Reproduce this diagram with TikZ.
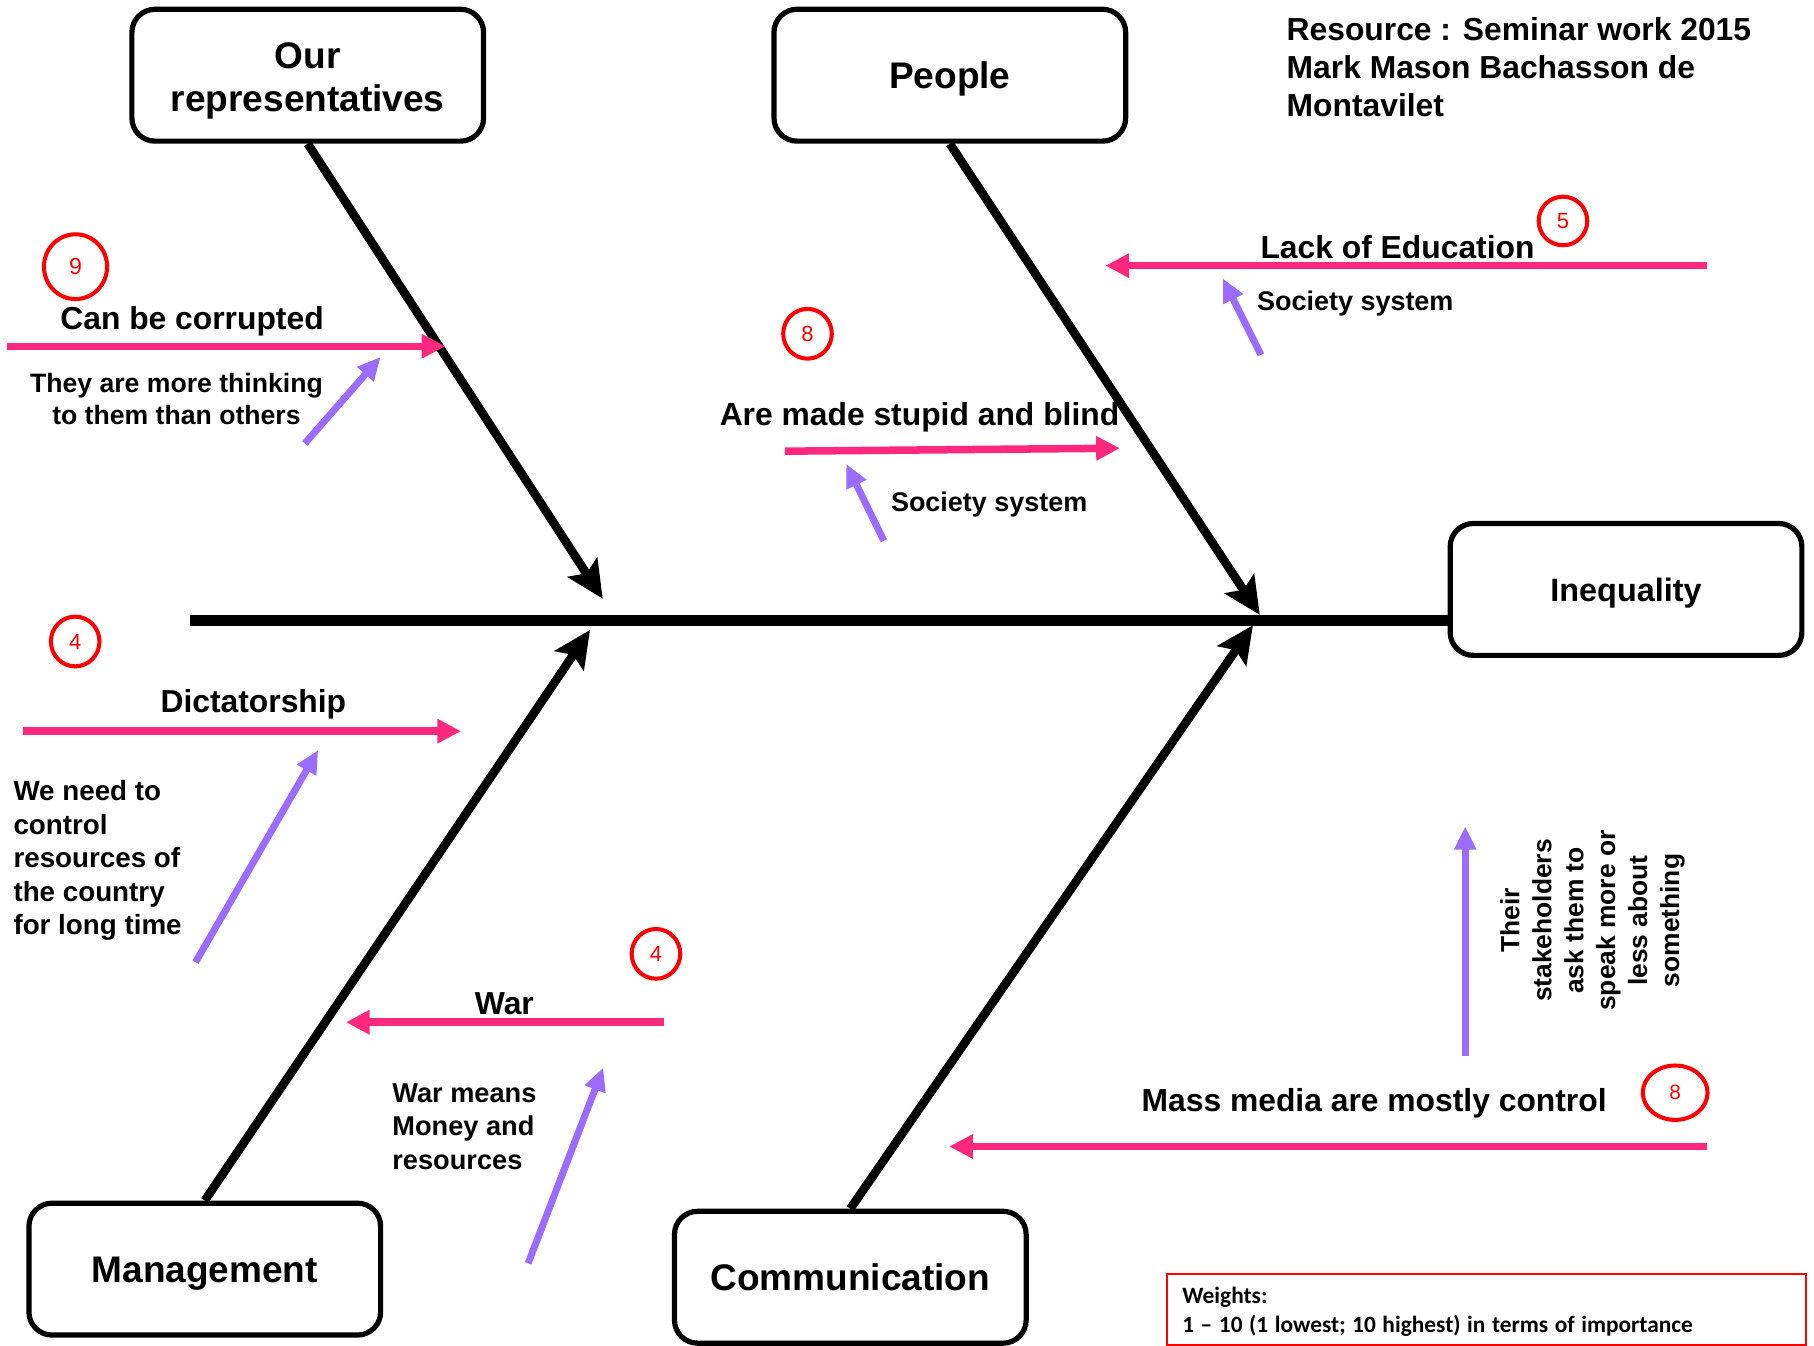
\documentclass[tikz,border=0pt]{standalone}
\usepackage{fontspec}
\setmainfont{Liberation Sans}
\newfontfamily\legendfont{Carlito}
\usetikzlibrary{arrows.meta,shapes.geometric}

\definecolor{causepink}{RGB}{255,40,125}
\definecolor{reasonviolet}{RGB}{155,108,255}

\begin{document}
\begin{tikzpicture}[x=1pt,y=-1pt]

\tikzset{
    bonebox/.style={draw, line width=4.5pt, rounded corners=20pt, minimum width=304pt, minimum height=114pt, align=center, text height=23pt, text depth=0pt, font=\fontsize{32}{37}\selectfont\bfseries},
    spine/.style={line width=9pt},
    bone/.style={line width=7.5pt, -{Stealth[length=32pt, width=30pt, inset=6pt]}},
    cause/.style={draw=causepink, line width=6.5pt, -{Triangle[length=20.5pt, width=20pt]}},
    reason/.style={draw=reasonviolet, line width=6pt, -{Triangle[length=20pt, width=18pt]}},
    causetext/.style={inner sep=0pt, anchor=base, font=\fontsize{27.5}{33}\selectfont\bfseries},
    reasontext/.style={inner sep=0pt, font=\fontsize{23.5}{29}\selectfont\bfseries},
    weight/.style={draw=red, line width=3.5pt, ellipse, inner sep=0pt, minimum width=42pt, minimum height=43pt, text=red, font=\fontsize{19}{19}\selectfont}
}

\useasboundingbox (0,0) rectangle (1568,1162.6);

\node[bonebox, text height=, text depth=] (rep) at (266,65) {\raisebox{-5pt}[\height][\depth]{Our}\\\raisebox{-5pt}[\height][\depth]{representatives}};
\node[bonebox] (people) at (821,65) {People};
\node[bonebox, text height=20pt, font=\fontsize{28}{34}\selectfont\bfseries] (ineq) at (1405.5,509.5) {Inequality};
\node[bonebox] (mgmt) at (177,1097) {Management};
\node[bonebox] (comm) at (735,1104) {Communication};

\coordinate (tail) at (164,536.5);
\coordinate (j1) at (521,517.5);
\coordinate (j2) at (1089,531.5);
\coordinate (j3) at (510,544.5);
\coordinate (j4) at (1083,540.5);

\draw[spine] (tail) -- (tail -| ineq.west);
\draw[bone] (rep.south) -- (j1);
\draw[bone] (people.south) -- (j2);
\draw[bone] (mgmt.north) -- (j3);
\draw[bone] (comm.north) -- (j4);

\node[anchor=north west, inner sep=0pt, align=left, font=\fontsize{27.5}{32.7}\selectfont\bfseries] (source) at (1112,15) {Resource : Seminar work 2015\\Mark Mason Bachasson de\\Montavilet};

% our representatives
\node[weight, minimum width=54.6pt, minimum height=56pt, font=\fontsize{20}{20}\selectfont] (w9) at (65.3,230.5) {9};
\node[causetext] (corrupt) at (166,284.4) {Can be corrupted};
\coordinate (corrupt-s) at (6,299.3);
\coordinate (corrupt-e) at (385,299.3);
\draw[cause] (corrupt-s) -- (corrupt-e);
\node[reasontext, anchor=north, align=center, font=\fontsize{23}{27.8}\selectfont\bfseries] (thinking) at (152.5,322.2) {They are more thinking\\to them than others};
\coordinate (thinking-s) at (263.5,383.3);
\coordinate (thinking-e) at (329,308.5);
\draw[reason] (thinking-s) -- (thinking-e);

% people
\node[weight] (w8a) at (698,288.5) {8};
\node[causetext] (stupid) at (794.8,367.8) {Are made stupid and blind};
\coordinate (stupid-s) at (678.5,390);
\coordinate (stupid-e) at (968,387.4);
\draw[cause] (stupid-s) -- (stupid-e);
\node[reasontext, anchor=base west, font=\fontsize{23.3}{28}\selectfont\bfseries] (society1) at (770,441.9) {Society system};
\coordinate (society1-s) at (764,467.4);
\coordinate (society1-e) at (731.5,401);
\draw[reason] (society1-s) -- (society1-e);

\node[weight, minimum height=42pt] (w5) at (1351,191) {5};
\node[causetext] (education) at (1208,223.3) {Lack of Education};
\coordinate (education-s) at (1475.5,229.6);
\coordinate (education-e) at (955.5,229.6);
\draw[cause] (education-s) -- (education-e);
\node[reasontext, anchor=base west, font=\fontsize{23.3}{28}\selectfont\bfseries] (society2) at (1086.5,268.5) {Society system};
\coordinate (society2-s) at (1090,306.7);
\coordinate (society2-e) at (1057,240.7);
\draw[reason] (society2-s) -- (society2-e);

% management
\node[weight] (w4a) at (65,554.5) {4};
\node[causetext] (dictator) at (219,616.2) {Dictatorship};
\coordinate (dictator-s) at (20,632);
\coordinate (dictator-e) at (398.5,632);
\draw[cause] (dictator-s) -- (dictator-e);
\node[reasontext, anchor=north west, align=left, font=\fontsize{24}{29}\selectfont\bfseries] (control) at (11.5,674.5) {We need to\\control\\resources of\\the country\\for long time};
\coordinate (control-s) at (169,831.7);
\coordinate (control-e) at (275,648.4);
\draw[reason] (control-s) -- (control-e);

\node[weight] (w4b) at (567,824.5) {4};
\node[causetext] (war) at (436,877.3) {War};
\coordinate (war-s) at (574,883.6);
\coordinate (war-e) at (299,883.6);
\draw[cause] (war-s) -- (war-e);
\node[reasontext, anchor=north west, align=left] (money) at (339,936.5) {War means\\Money and\\resources};
\coordinate (money-s) at (456.5,1092);
\coordinate (money-e) at (521.5,922.9);
\draw[reason] (money-s) -- (money-e);

% communication
\node[weight, minimum width=56pt, minimum height=47pt, font=\fontsize{18}{18}\selectfont] (w8b) at (1448,944.5) {8};
\node[causetext] (media) at (1187.8,960.6) {Mass media are mostly control};
\coordinate (media-s) at (1475.5,991);
\coordinate (media-e) at (820.5,991);
\draw[cause] (media-s) -- (media-e);
\coordinate (stake-s) at (1266.5,913);
\coordinate (stake-e) at (1266.5,714.3);
\draw[reason] (stake-s) -- (stake-e);
\node[reasontext, rotate=90, align=center, font=\fontsize{22.8}{27.6}\selectfont\bfseries] (stake) at (1376.5,795.7) {Their\\stakeholders\\ask them to\\speak more or\\less about\\something};

\node[draw=red, line width=2pt, anchor=north west, minimum width=552pt, minimum height=62pt, text width=526pt, inner xsep=13pt, align=left, font=\legendfont\fontsize{20.2}{25}\selectfont\bfseries] (legend) at (1008,1100) {\spaceskip=0.28em\relax\raisebox{-2pt}[\height][\depth]{Weights:}\\\raisebox{-2pt}[\height][\depth]{1 – 10 (1 lowest; 10 highest) in terms of importance}};

\end{tikzpicture}
\end{document}
